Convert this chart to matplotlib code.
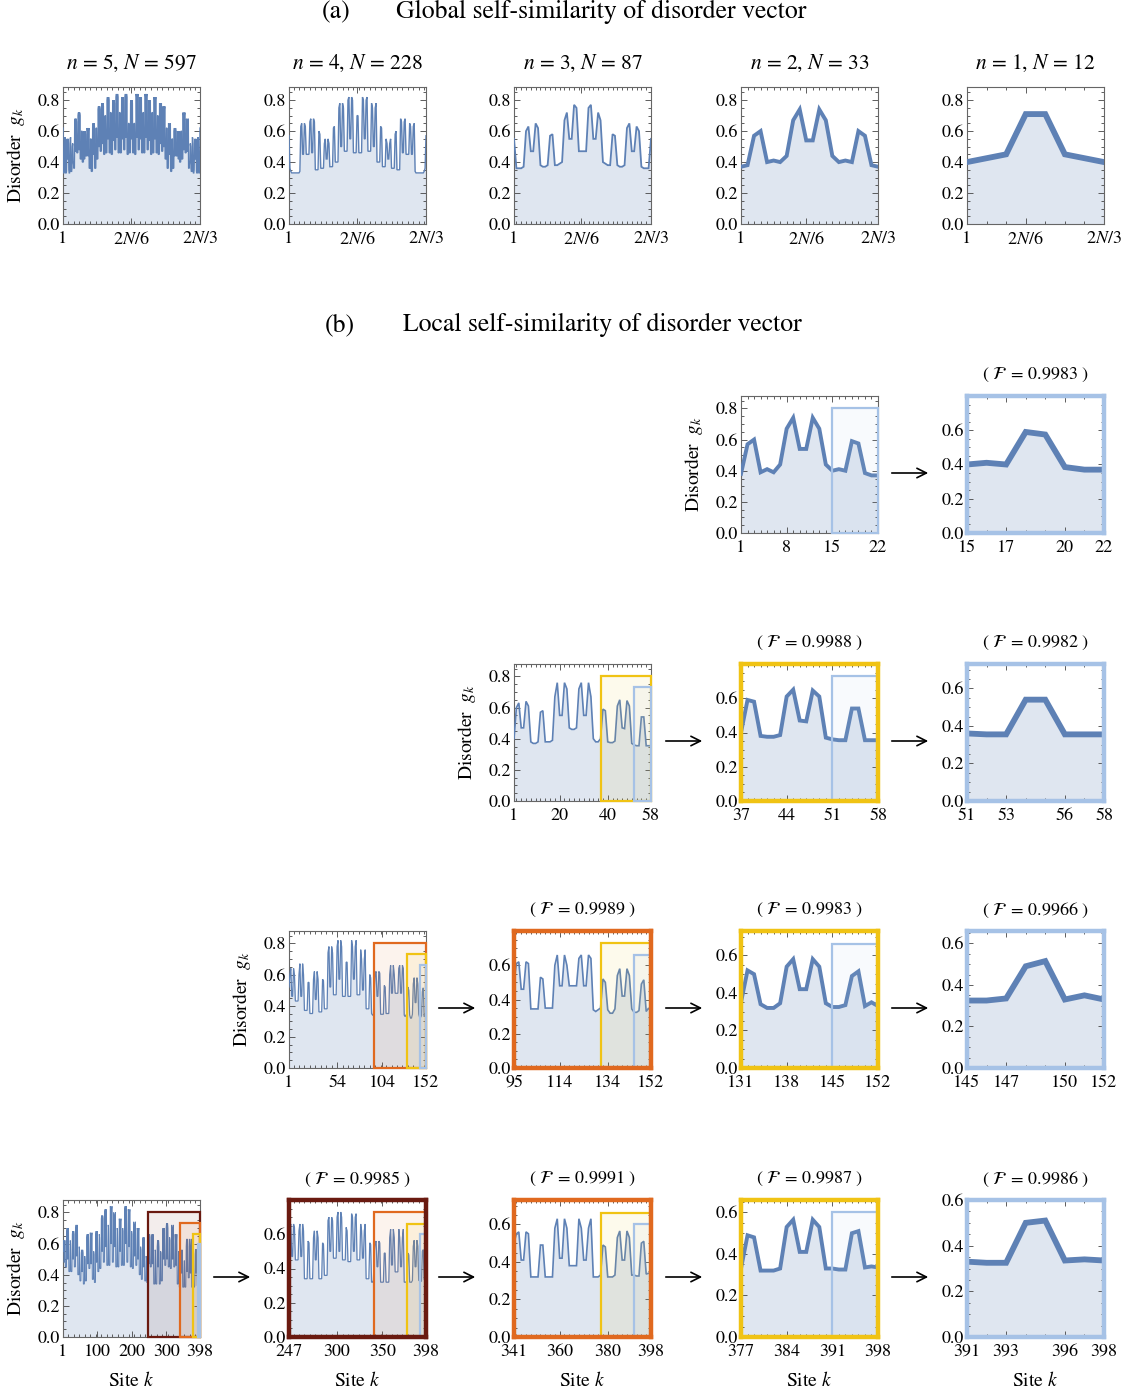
import numpy as np
import matplotlib
matplotlib.use("Agg")
import matplotlib.pyplot as plt
from matplotlib.patches import Rectangle, FancyArrowPatch
from matplotlib.ticker import FixedLocator, MultipleLocator

plt.rcParams['font.family'] = ['STIXGeneral', 'DejaVu Serif']
plt.rcParams['mathtext.fontset'] = 'stix'

LINE = '#5E81B5'
FILL = '#DFE6F0'
MAROON = '#6A1A10'
ORANGE = '#E0691F'
YELLOW = '#F0C314'
BLUE = '#A6C2E6'


def build(start, groups, gaps, end):
    # groups: (outer, inner, dip) = double peak of 6 sites, (p1, p2) = single peak of 2 sites
    # gaps: level of the 4 sites after each group (or the 4 values)
    vals = list(start)
    for i, grp in enumerate(groups):
        if len(grp) == 3:
            o, p, m = grp
            vals += [o, p, m, m, p, o]
        else:
            vals += list(grp)
        if i < len(gaps):
            g = gaps[i]
            vals += list(g) if isinstance(g, (list, tuple)) else [g] * 4
    return np.array(vals + list(end))


# ---------------- (a) global: first 2N/3 sites ----------------
a_N = [597, 228, 87, 33, 12]
a_n = [5, 4, 3, 2, 1]

g_n1 = [0.40, 0.425, 0.45, 0.71, 0.71, 0.45, 0.425, 0.40]
g_n2 = [0.37, 0.38, 0.57, 0.60, 0.40, 0.41, 0.40, 0.44, 0.67, 0.74, 0.54,
        0.54, 0.74, 0.67, 0.44, 0.40, 0.41, 0.40, 0.60, 0.57, 0.38, 0.37]
g_n3 = [0.55, 0.36, 0.36, 0.36, 0.37, 0.60, 0.63, 0.47, 0.47, 0.65, 0.62,
        0.38, 0.37, 0.37, 0.38, 0.57, 0.58, 0.38, 0.38, 0.39, 0.40, 0.67,
        0.72, 0.55, 0.55, 0.77, 0.75, 0.47, 0.47, 0.47, 0.47, 0.75, 0.77,
        0.55, 0.55, 0.72, 0.67, 0.40, 0.39, 0.38, 0.38, 0.58, 0.57, 0.38,
        0.37, 0.37, 0.38, 0.62, 0.65, 0.47, 0.47, 0.63, 0.60, 0.37, 0.36,
        0.36, 0.36, 0.55]

n4_edge_l = [0.57, 0.36, 0.34, 0.33, 0.33, 0.33, 0.33, 0.33, 0.33, 0.33, 0.33, 0.33, 0.34]
n4_edge_r = [0.34, 0.33, 0.33, 0.33, 0.33, 0.33, 0.33, 0.33, 0.33, 0.33, 0.34, 0.36, 0.57]
n4_groups = [(0.63, 0.65, 0.45), (0.66, 0.68, 0.46), (0.60, 0.58), (0.52, 0.55, 0.42),
             (0.62, 0.63), (0.75, 0.78, 0.50), (0.80, 0.82, 0.55), (0.70, 0.70),
             (0.82, 0.80, 0.55), (0.78, 0.75, 0.50), (0.63, 0.62), (0.55, 0.52, 0.42),
             (0.58, 0.60), (0.68, 0.66, 0.46), (0.65, 0.63, 0.45)]
n4_gaps = [0.45, 0.35, 0.36, 0.37, 0.40, 0.47, 0.46, 0.46, 0.47, 0.40, 0.37, 0.36, 0.35, 0.45]
g_n4 = build(n4_edge_l, n4_groups, n4_gaps, n4_edge_r)

n5_edge_l = [0.62, 0.34, 0.33, 0.33, 0.35, 0.55, 0.56, 0.35, 0.33, 0.33, 0.34, 0.50,
             0.55, 0.42, 0.42, 0.55, 0.52, 0.35, 0.33, 0.33, 0.34, 0.55, 0.56, 0.36,
             0.34, 0.34, 0.36, 0.50, 0.52, 0.40, 0.40, 0.38, 0.36, 0.36]
n5_edge_r = n5_edge_l[::-1]
n5_groups = [(0.66, 0.68, 0.47), (0.70, 0.72, 0.48), (0.60, 0.60), (0.58, 0.60, 0.42),
             (0.62, 0.60, 0.44), (0.55, 0.55), (0.63, 0.65, 0.45), (0.62, 0.62),
             (0.74, 0.76, 0.50), (0.76, 0.78, 0.52), (0.70, 0.70), (0.80, 0.82, 0.55),
             (0.72, 0.72), (0.78, 0.80, 0.54), (0.82, 0.84, 0.56), (0.72, 0.72),
             (0.80, 0.82, 0.55), (0.82, 0.84, 0.56), (0.65, 0.65), (0.78, 0.80, 0.55),
             (0.65, 0.65), (0.84, 0.82, 0.56), (0.82, 0.80, 0.55), (0.72, 0.72),
             (0.84, 0.82, 0.56), (0.80, 0.78, 0.54), (0.72, 0.72), (0.82, 0.80, 0.55),
             (0.70, 0.70), (0.78, 0.76, 0.52), (0.76, 0.74, 0.50), (0.62, 0.62),
             (0.65, 0.63, 0.45), (0.55, 0.55), (0.60, 0.62, 0.44), (0.60, 0.58, 0.42),
             (0.60, 0.60), (0.72, 0.70, 0.48), (0.68, 0.66, 0.47)]
n5_gaps = [0.46, 0.42, 0.40, 0.44, 0.36, 0.34, 0.36, 0.42, 0.47, 0.45, 0.46, 0.46, 0.45,
           0.48, 0.46, 0.46, 0.48, 0.45, 0.46, 0.46, 0.45, 0.48, 0.46, 0.46, 0.48, 0.45,
           0.46, 0.46, 0.45, 0.47, 0.42, 0.36, 0.34, 0.36, 0.44, 0.40, 0.42, 0.46]
g_n5 = build(n5_edge_l, n5_groups, n5_gaps, n5_edge_r)

a_series = [g_n5, g_n4, g_n3, g_n2, g_n1]
a_lw = [1.0, 1.0, 1.3, 2.8, 4.2]

# ---------------- (b) local: disorder vectors of 22, 58, 152, 398 sites ----------------
s22 = [0.38, 0.57, 0.60, 0.39, 0.41, 0.39, 0.44, 0.67, 0.74, 0.54, 0.54,
       0.74, 0.67, 0.44, 0.40, 0.41, 0.40, 0.59, 0.575, 0.385, 0.37, 0.37]

s58 = [0.40, 0.60, 0.63, 0.47, 0.47, 0.64, 0.61, 0.38, 0.37, 0.37, 0.38,
       0.57, 0.58, 0.38, 0.38, 0.38, 0.39, 0.67, 0.76, 0.55, 0.55, 0.76,
       0.72, 0.47, 0.46, 0.46, 0.47, 0.72, 0.76, 0.55, 0.55, 0.76, 0.67,
       0.40, 0.38, 0.38, 0.40, 0.59, 0.58, 0.38, 0.375, 0.375, 0.385, 0.61,
       0.65, 0.47, 0.465, 0.645, 0.61, 0.37, 0.36, 0.355, 0.355, 0.54, 0.54,
       0.355, 0.355, 0.355]

s152_groups = [(0.60, 0.64, 0.46), (0.60, 0.67, 0.46), (0.55, 0.55), (0.57, 0.62, 0.44),
               (0.57, 0.56), (0.74, 0.78, 0.52), (0.78, 0.82, 0.57), (0.68, 0.68),
               (0.82, 0.78, 0.57), (0.76, 0.70, 0.50), (0.60, 0.58), (0.61, 0.62, 0.46),
               (0.53, 0.52), (0.60, 0.66, 0.48), (0.64, 0.66, 0.48), (0.52, 0.50),
               (0.54, 0.58, 0.42), (0.49, 0.515)]
s152_gaps = [0.43, 0.37, 0.35, 0.36, 0.38, 0.47, 0.46, 0.46, 0.47, 0.38,
             [0.35, 0.34, 0.34, 0.50], 0.345, 0.35, 0.48, [0.34, 0.33, 0.34, 0.35],
             [0.34, 0.32, 0.32, 0.345], [0.345, 0.325, 0.325, 0.335]]
s152 = build([0.52], s152_groups, s152_gaps, [0.33, 0.35, 0.33])

s398_groups = [(0.62, 0.62, 0.48), (0.68, 0.70, 0.50), (0.62, 0.60), (0.66, 0.68, 0.50),
               (0.70, 0.72, 0.52), (0.58, 0.56), (0.54, 0.56, 0.42), (0.52, 0.50),
               (0.64, 0.66, 0.47), (0.67, 0.65, 0.47), (0.55, 0.53), (0.66, 0.68, 0.48),
               (0.66, 0.64), (0.76, 0.78, 0.55), (0.80, 0.82, 0.58), (0.72, 0.70),
               (0.84, 0.82, 0.60), (0.80, 0.78, 0.58), (0.70, 0.68), (0.76, 0.74, 0.55),
               (0.70, 0.68), (0.82, 0.84, 0.60), (0.82, 0.80, 0.58), (0.68, 0.66),
               (0.74, 0.72, 0.52), (0.70, 0.68, 0.50), (0.58, 0.56), (0.62, 0.64, 0.45),
               (0.52, 0.50),
               (0.64, 0.66, 0.47), (0.62, 0.66, 0.47), (0.56, 0.55), (0.58, 0.62, 0.45),
               (0.55, 0.54), (0.68, 0.70, 0.50), (0.70, 0.73, 0.50), (0.64, 0.62),
               (0.72, 0.70, 0.50), (0.66, 0.62, 0.46), (0.55, 0.54), (0.55, 0.56, 0.41),
               (0.49, 0.49), (0.58, 0.63, 0.42), (0.63, 0.58, 0.41), (0.49, 0.48),
               (0.53, 0.565, 0.41), (0.50, 0.51)]
s398_gaps = [0.45, 0.42, 0.42, 0.45, 0.40, 0.36, 0.34, 0.36, 0.44, 0.37, 0.35, 0.42,
             0.44, 0.48, 0.46, 0.46, 0.48, 0.45, 0.45, 0.46, 0.46, 0.48, 0.45, 0.44,
             0.46, 0.40, 0.37, 0.36, [0.35, 0.35, 0.36, 0.55],
             0.45, 0.34, 0.34, 0.34, 0.36, 0.46, 0.45, 0.44, 0.45, 0.34,
             [0.32, 0.32, 0.33, 0.50], 0.32, 0.32, 0.38, [0.32, 0.32, 0.32, 0.33],
             [0.32, 0.32, 0.32, 0.33], [0.33, 0.33, 0.325, 0.325]]
s398 = build([0.55], s398_groups, s398_gaps, [0.335, 0.34, 0.335])

b_series = [s22, s58, s152, s398]
b_windows = [[(1, 22), (15, 22)],
             [(1, 58), (37, 58), (51, 58)],
             [(1, 152), (95, 152), (131, 152), (145, 152)],
             [(1, 398), (247, 398), (341, 398), (377, 398), (391, 398)]]
b_heights = [[0.8], [0.8, 0.73], [0.8, 0.73, 0.66], [0.8, 0.73, 0.66, 0.6]]
b_colors = [[BLUE], [YELLOW, BLUE], [ORANGE, YELLOW, BLUE], [MAROON, ORANGE, YELLOW, BLUE]]
b_xticks = [[[1, 8, 15, 22], [15, 17, 20, 22]],
            [[1, 20, 40, 58], [37, 44, 51, 58], [51, 53, 56, 58]],
            [[1, 54, 104, 152], [95, 114, 134, 152], [131, 138, 145, 152], [145, 147, 150, 152]],
            [[1, 100, 200, 300, 398], [247, 300, 350, 398], [341, 360, 380, 398],
             [377, 384, 391, 398], [391, 393, 396, 398]]]
b_fid = [['0.9983'], ['0.9988', '0.9982'], ['0.9989', '0.9983', '0.9966'],
         ['0.9985', '0.9991', '0.9987', '0.9986']]

# ---------------- layout ----------------
W, H = 1128, 1391
fig = plt.figure(figsize=(W / 100, H / 100), dpi=100)
lefts = [63, 289, 514, 741, 967]
PW = 137


def lw_for(npts):
    if npts <= 8:
        return 4.2
    if npts <= 22:
        return 2.8
    if npts <= 58:
        return 1.2
    if npts <= 152:
        return 0.9
    return 0.7


def make_panel(left, top, x, y, xlim, ylim, xticks, xlabels, yticks, lw, frame=None):
    ax = fig.add_axes([left / W, 1 - (top + PW) / H, PW / W, PW / H])
    ax.fill_between(x, 0, y, color=FILL, lw=0, zorder=1)
    ax.plot(x, y, color=LINE, lw=lw, zorder=4, solid_joinstyle='miter')
    ax.set_xlim(*xlim)
    ax.set_ylim(*ylim)
    ax.xaxis.set_major_locator(FixedLocator(xticks))
    ax.set_xticklabels(xlabels)
    span = xlim[1] - xlim[0]
    ax.xaxis.set_minor_locator(MultipleLocator(max(1, round(span / 25))))
    ax.yaxis.set_major_locator(FixedLocator(yticks))
    ax.set_yticklabels(['%.1f' % t for t in yticks])
    ax.yaxis.set_minor_locator(MultipleLocator(0.05))
    ax.tick_params(which='both', direction='in', top=True, right=True,
                   labelsize=13, color='#444444', width=0.6)
    ax.tick_params(axis='x', pad=5)
    ax.tick_params(axis='y', pad=2)
    ax.tick_params(which='major', length=4)
    ax.tick_params(which='minor', length=2)
    for sp in ax.spines.values():
        if frame is None:
            sp.set_color('#666666')
            sp.set_linewidth(0.8)
        else:
            sp.set_color(frame)
            sp.set_linewidth(3.2)
            sp.set_zorder(6)
    return ax


def arrow(x0, x1, y):
    fig.add_artist(FancyArrowPatch((x0 / W, 1 - y / H), (x1 / W, 1 - y / H),
                                   transform=fig.transFigure, arrowstyle='->',
                                   mutation_scale=17, lw=1.2, color='black'))


def ylabel(x, y):
    fig.text(x / W, 1 - y / H, r'Disorder  $g_k$', rotation=90, ha='center',
             va='center', fontsize=14)


# section titles
fig.text(336 / W, 1 - 12 / H, '(a)', fontsize=18.5, ha='center', va='center')
fig.text(601 / W, 1 - 12 / H, 'Global self-similarity of disorder vector',
         fontsize=18.5, ha='center', va='center')
fig.text(340 / W, 1 - 325 / H, '(b)', fontsize=18.5, ha='center', va='center')
fig.text(602 / W, 1 - 325 / H, 'Local self-similarity of disorder vector',
         fontsize=18.5, ha='center', va='center')

full_ticks = [0.0, 0.2, 0.4, 0.6, 0.8]
zoom_ticks = [0.0, 0.2, 0.4, 0.6]

# (a) row
for i in range(5):
    y = np.asarray(a_series[i])
    x = np.arange(1, len(y) + 1)
    N = a_N[i]
    make_panel(lefts[i], 87, x, y, (1, 2 * N // 3), (0, 0.885),
               [1, 2 * N // 6, 2 * N // 3], ['1', r'$2N/6$', r'$2N/3$'],
               full_ticks, a_lw[i])
    fig.text((lefts[i] + PW / 2) / W, 1 - 63 / H,
             r'$n$ = %d, $N$ = %d' % (a_n[i], N), fontsize=15.5, ha='center', va='center')
ylabel(16, 155)

# (b) rows
b_tops = [396, 664, 931, 1200]
for r in range(4):
    y = np.asarray(b_series[r])
    x = np.arange(1, len(y) + 1)
    top = b_tops[r]
    c0 = 3 - r
    wins = b_windows[r]
    for j, (k0, k1) in enumerate(wins):
        left = lefts[c0 + j]
        sel = (x >= k0) & (x <= k1)
        if j == 0:
            ylim = (0, 0.88)
            frame = None
            yt = full_ticks
        else:
            ylim = (0, b_heights[r][j - 1])
            frame = b_colors[r][j - 1]
            yt = zoom_ticks
        ax = make_panel(left, top, x[sel], y[sel], (k0, k1), ylim,
                        b_xticks[r][j], [str(t) for t in b_xticks[r][j]], yt,
                        lw_for(k1 - k0 + 1), frame)
        # highlight the next zoom windows
        for q in range(j, len(wins) - 1):
            w0, w1 = wins[q + 1]
            col = b_colors[r][q]
            ax.add_patch(Rectangle((w0, 0), w1 - w0, b_heights[r][q], facecolor=col,
                                   alpha=0.08, edgecolor='none', zorder=5))
            ax.add_patch(Rectangle((w0, 0), w1 - w0, b_heights[r][q], facecolor='none',
                                   edgecolor=col, lw=1.6, zorder=5, clip_on=False))
        if j > 0:
            fig.text((left + PW / 2) / W, 1 - (top - 21) / H,
                     r'( $\mathcal{F}\,$ = %s )' % b_fid[r][j - 1],
                     fontsize=13, ha='center', va='center')
            arrow(left - 78, left - 36, top + 77)
        if r == 3:
            fig.text((left + PW / 2) / W, 1 - 1381 / H, r'Site $k$', fontsize=14,
                     ha='center', va='center')
    ylabel(lefts[c0] - 47, top + 68)

fig.savefig('out.png', dpi=100)
